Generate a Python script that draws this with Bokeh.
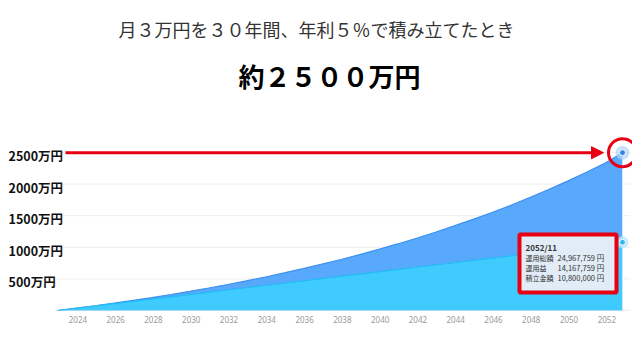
from bokeh.plotting import figure
from bokeh.models import Range1d, FixedTicker, Label, Arrow, NormalHead
from bokeh.embed import file_html
from bokeh.resources import INLINE

# ---- data (values in 万円) ----
years = [2022.92, 2023.92, 2024.92, 2025.92, 2026.92, 2027.92, 2028.92, 2029.92,
         2030.92, 2031.92, 2032.92, 2033.92, 2034.92, 2035.92, 2036.92, 2037.92,
         2038.92, 2039.92, 2040.92, 2041.92, 2042.92, 2043.92, 2044.92, 2045.92,
         2046.92, 2047.92, 2048.92, 2049.92, 2050.92, 2051.92, 2052.83]
total = [0, 37, 75, 117, 160, 205, 253, 303, 356, 411, 469, 530, 594, 662, 733, 807,
         885, 967, 1053, 1144, 1238, 1338, 1442, 1551, 1666, 1787, 1914, 2047, 2187,
         2334, 2497]
principal = [0, 36, 72, 108, 144, 180, 216, 252, 288, 324, 360, 396, 432, 468, 504,
             540, 576, 612, 648, 684, 720, 756, 792, 828, 864, 900, 936, 972, 1008,
             1044, 1080]
x_ticks = [2024, 2026, 2028, 2030, 2032, 2034, 2036, 2038, 2040, 2042, 2044, 2046,
           2048, 2050, 2052]
y_ticks = [500, 1000, 1500, 2000, 2500]
y_labels = ["500万円", "1000万円", "1500万円", "2000万円", "2500万円"]
tip_date = "2052/11"
tip_names = ["運用総額", "運用益", "積立金額"]
tip_values = ["24,967,759 円", "14,167,759 円", "10,800,000 円"]
subtitle = "月３万円を３０年間、年利５％で積み立てたとき"
headline = "約２５００万円"

JP = "Noto Sans CJK JP"

# pixel helpers for annotations (canvas pixels)
PX_X = 18.89   # px per year
PX_Y = 0.0632  # px per 万円
def X(px):
    return years[0] + (px - 57) / PX_X
def Y(py):
    return (310 - py) / PX_Y

W, H = 632, 344
p = figure(width=W, height=H, output_backend="svg", toolbar_location=None,
           x_range=Range1d(X(0), X(W)), y_range=Range1d(0, Y(0)),
           min_border_left=0, min_border_right=0, min_border_top=0,
           min_border_bottom=H - 310)
p.outline_line_color = None
p.background_fill_color = "white"
p.border_fill_color = "white"

p.yaxis.visible = False
p.xgrid.visible = False
p.ygrid.visible = False

ax = p.xaxis[0]
ax.ticker = FixedTicker(ticks=x_ticks)
ax.axis_line_color = None
ax.major_tick_line_color = None
ax.minor_tick_line_color = None
ax.major_tick_out = 0
ax.major_tick_in = 0
ax.minor_tick_out = 0
ax.major_label_text_font = "Noto Sans"
ax.major_label_text_font_size = "8px"
ax.major_label_text_color = "#999999"
ax.major_label_standoff = 5

# grid lines and baseline
p.segment(x0=[X(56)] * len(y_ticks), y0=y_ticks, x1=[X(630)] * len(y_ticks),
          y1=y_ticks, line_color="#eeeeee", line_width=1)
p.segment(x0=[X(56)], y0=[0], x1=[X(630)], y1=[0], line_color="#dde3ea",
          line_width=1.5)

# areas
p.varea(x=years, y1=0, y2=total, fill_color="#58a8fb")
p.line(x=years, y=total, line_color="#3d90f0", line_width=1.2)
p.varea(x=years, y1=0, y2=principal, fill_color="#40cbff")
p.line(x=years, y=principal, line_color="#22bdf7", line_width=1.2)

# hover crosshair line
p.segment(x0=[years[-1]], y0=[0], x1=[years[-1]], y1=[total[-1]],
          line_color="#d2e6f8", line_width=1)

# markers
p.scatter(x=[years[-1]], y=[total[-1]], size=14, fill_color="#b3d4f7",
          fill_alpha=0.7, line_color=None)
p.scatter(x=[years[-1]], y=[total[-1]], size=6, fill_color="#2f86e8",
          line_color="white", line_width=1)
p.scatter(x=[years[-1]], y=[principal[-1]], size=12, fill_color="#b6e6fb",
          fill_alpha=0.8, line_color=None)
p.scatter(x=[years[-1]], y=[principal[-1]], size=6, fill_color="#34b8f2",
          line_color="white", line_width=1)

# red circle
p.scatter(x=[years[-1]], y=[total[-1]], size=28, fill_color=None,
          line_color="#e60012", line_width=3)

# red arrow
p.add_layout(Arrow(end=NormalHead(size=12, fill_color="#e60012",
                                  line_color="#e60012"),
                   x_start=X(65), y_start=total[-1], x_end=X(603), y_end=total[-1],
                   line_color="#e60012", line_width=3))

# tooltip box
p.quad(left=[X(519)], right=[X(616)], top=[Y(234)], bottom=[Y(292)],
       fill_color="#e1ecf6", line_color="#e60012", line_width=4)

p.add_layout(Label(x=X(525), y=Y(247), text=tip_date, text_font=JP,
                   text_font_size="8px", text_font_style="bold",
                   text_color="#333333", text_baseline="middle"))
for i, (n, v) in enumerate(zip(tip_names, tip_values)):
    yy = Y(257 + 10 * i)
    p.add_layout(Label(x=X(525), y=yy, text=n, text_font=JP, text_font_size="7px",
                       text_color="#333333", text_baseline="middle"))
    p.add_layout(Label(x=X(557), y=yy, text=v, text_font=JP, text_font_size="7.5px",
                       text_color="#333333", text_baseline="middle"))

# y labels
for t, lab in zip(y_ticks, y_labels):
    p.add_layout(Label(x=X(8), y=t, y_offset=-3, text=lab,
                       text_font=JP, text_font_size="12.5px", text_font_style="bold",
                       text_color="#111111", text_baseline="middle",
                       text_align="left"))

# titles
p.add_layout(Label(x=X(316), y=Y(28), text=subtitle, text_font=JP,
                   text_font_size="18px", text_color="#333333",
                   text_align="center", text_baseline="middle"))
p.add_layout(Label(x=X(329), y=Y(75), text=headline, text_font=JP,
                   text_font_size="26px", text_font_style="bold",
                   text_color="#000000", text_align="center", text_baseline="middle"))

open("out.html", "w").write(file_html(p, INLINE))
